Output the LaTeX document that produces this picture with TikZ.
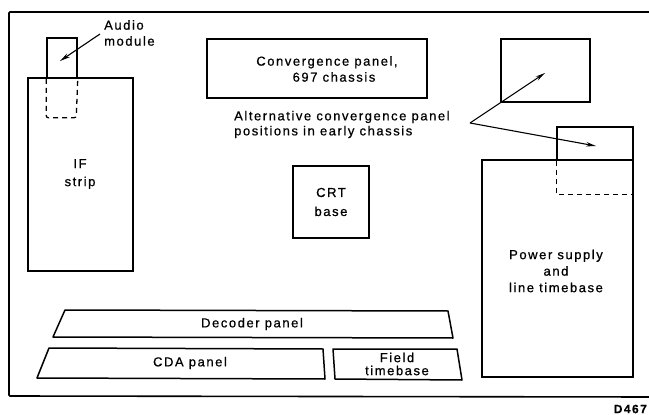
\documentclass[tikz,border=0pt]{standalone}
\usepackage{fontspec}
\setmainfont{Liberation Sans}[LetterSpace=12,FakeBold=0.7]
\usetikzlibrary{arrows.meta}
\tikzset{
  panel/.style={draw, line width=1.5pt, rectangle, inner sep=0pt},
  dashedline/.style={draw, line width=1.3pt, dash pattern=on 5pt off 4pt},
  lbl/.style={font=\fontsize{13}{16}\selectfont, align=center, inner sep=0pt},
  pointer/.style={draw, line width=1.1pt, -{Stealth[length=10pt,width=4.5pt]}},
}
\begin{document}
\begin{tikzpicture}[x=1pt,y=-1pt]
\useasboundingbox (0,0) rectangle (649,415);
\clip (0,0) rectangle (649,415);
% outer frame (open at the right)
\draw[line width=1.6pt, rounded corners=1pt] (655,12) -- (9,12) -- (9,396) -- (655,397);
% IF strip and audio module
\node[panel, minimum width=30pt, minimum height=40pt] (audio) at (62,58) {};
\node[panel, minimum width=105pt, minimum height=193pt] (ifs) at (80.5,174.5) {};
\node[lbl, font=\fontsize{13}{18}\selectfont] (ift) at (80,174) {IF\\strip};
\draw[dashedline, rounded corners=2pt] (audio.south west) -- ++(0,39) -- ++(30,0) -- (audio.south east);
\node[lbl, align=left, anchor=west] (audiot) at (104,33) {Audio\\module};
\coordinate (audiofrom) at (100,34);
\coordinate (audioto) at (60,61);
\draw[pointer] (audiofrom) -- (audioto);
% convergence panel
\node[panel, minimum width=220pt, minimum height=59pt] (conv) at (317,68.5) {};
\node[lbl] (convt) at (327,69) {Convergence panel,\\\hspace*{14pt}697 chassis};
\node[lbl, align=left, anchor=west, font=\fontsize{13}{15}\selectfont] (alt) at (234,124.5) {Alternative convergence panel\\positions in early chassis};
% CRT base
\node[panel, minimum width=76pt, minimum height=72pt] (crt) at (331,202) {};
\node[lbl, font=\fontsize{13}{19}\selectfont] (crtt) at (331,202) {CRT\\base};
% alternative positions
\node[panel, minimum width=89pt, minimum height=63pt] (alt1) at (545.5,70.5) {};
\node[panel, minimum width=76pt, minimum height=33pt] (alt2) at (595,143.5) {};
\node[panel, minimum width=151pt, minimum height=217pt] (power) at (557.5,268.5) {};
\draw[dashedline, rounded corners=2pt] (alt2.south west) -- ++(0,34) -- ++(76,0);
\node[lbl, font=\fontsize{13}{16.5}\selectfont] (powert) at (556,271) {Power supply\\and\\line timebase};
\coordinate (split) at (470,123);
\coordinate (tip1) at (545,73);
\coordinate (tip2) at (596,146);
\draw[pointer] (split) -- (tip1);
\draw[pointer] (split) -- (tip2);
% bottom panels
\coordinate (d1) at (53,337); \coordinate (d2) at (65,310); \coordinate (d3) at (448,311); \coordinate (d4) at (453,338);
\draw[line width=1.5pt, line join=round] (d1) -- (d2) -- (d3) -- (d4) -- cycle;
\node[lbl] (dect) at (252,324) {Decoder panel};
\coordinate (c1) at (37,378); \coordinate (c2) at (49,348); \coordinate (c3) at (323,349); \coordinate (c4) at (325,379);
\draw[line width=1.5pt, line join=round] (c1) -- (c2) -- (c3) -- (c4) -- cycle;
\node[lbl] (cdat) at (190,363) {CDA panel};
\coordinate (f1) at (335,379); \coordinate (f2) at (333,349); \coordinate (f3) at (457,349); \coordinate (f4) at (462,380);
\draw[line width=1.5pt, line join=round] (f1) -- (f2) -- (f3) -- (f4) -- cycle;
\node[lbl, font=\fontsize{13}{13}\selectfont] (fieldt) at (397,364) {Field\\timebase};
% figure number
\node[font=\bfseries\fontsize{12}{12}\selectfont, inner sep=0pt, anchor=east] (fig) at (647,409) {D467};
\end{tikzpicture}
\end{document}
